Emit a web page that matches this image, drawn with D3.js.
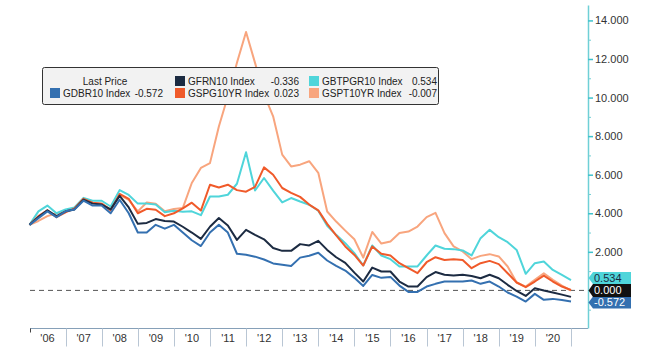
<!DOCTYPE html>
<html>
<head>
<meta charset="utf-8">
<script src="https://cdn.jsdelivr.net/npm/d3@7"></script>
<style>
    body { margin: 0; background: #fff; }
    svg { display: block; font-family: "Liberation Sans", Arial, sans-serif; }
</style>
</head>
<body>
<svg></svg>
<script>
// quarterly 10y yields (2006 Q1 .. 2021 Q1)
const gdbr10 = [3.4, 3.75, 4.1, 3.8, 4.1, 4.2, 4.65, 4.4, 4.4, 4.0,
    4.7, 4.0, 3.0, 3.0, 3.4, 3.2, 3.4, 3.0, 2.6, 2.3,
    3.0, 3.4, 3.0, 1.9, 1.85, 1.75, 1.6, 1.4, 1.33, 1.27,
    1.7, 1.8, 1.95, 1.55, 1.27, 1.03, 0.65, 0.23, 0.8, 0.65,
    0.7, 0.25, -0.08, -0.08, 0.2, 0.34, 0.46, 0.46, 0.46, 0.51,
    0.34, 0.46, 0.2, -0.11, -0.32, -0.58, -0.18, -0.49, -0.44, -0.5,
    -0.572];

const gfrn10 = [3.4, 3.8, 4.15, 3.85, 4.1, 4.2, 4.7, 4.5, 4.45, 4.2,
    4.9, 4.3, 3.45, 3.5, 3.7, 3.6, 3.57, 3.3, 3.0, 2.67,
    3.3, 3.75, 3.37, 2.62, 3.14, 2.88, 2.65, 2.2, 2.05, 2.05,
    2.4, 2.33, 2.57, 2.1, 1.72, 1.43, 0.92, 0.46, 1.18, 0.98,
    0.98, 0.46, 0.2, 0.2, 0.69, 0.95, 0.81, 0.77, 0.81, 0.75,
    0.63, 0.81, 0.63, 0.29, -0.03, -0.29, 0.11, -0.01, -0.11, -0.22,
    -0.336];

const gbtpgr10 = [3.4, 4.1, 4.4, 4.0, 4.2, 4.3, 4.8, 4.65, 4.65, 4.35,
    5.2, 4.95, 4.5, 4.5, 4.45, 4.05, 4.13, 4.08, 4.1, 3.9,
    4.87, 4.87, 4.96, 5.53, 7.16, 5.18, 5.83, 5.17, 4.56, 4.79,
    4.61, 4.44, 4.13, 3.35, 2.88, 2.45, 1.93, 1.29, 2.33, 1.81,
    1.62, 1.24, 1.24, 1.24, 1.81, 2.33, 2.16, 2.14, 2.07, 1.81,
    2.71, 3.14, 2.76, 2.5, 2.1, 0.86, 1.41, 1.5, 1.06, 0.8,
    0.534];

const gspg10yr = [3.4, 3.85, 4.15, 3.8, 4.05, 4.25, 4.75, 4.55, 4.5, 4.15,
    5.0, 4.75, 4.0, 4.23, 4.18, 3.85, 4.0, 4.25, 4.55, 4.14,
    5.48, 5.34, 5.48, 5.2, 5.12, 5.37, 6.38, 6.0, 5.31, 5.06,
    4.85, 4.45, 4.15, 3.45, 2.85, 2.28, 1.84, 1.29, 2.28, 1.9,
    1.81, 1.41, 1.15, 0.89, 1.46, 1.72, 1.58, 1.62, 1.58, 1.15,
    1.41, 1.53, 1.36, 0.89, 0.41, 0.17, 0.46, 0.77, 0.46, 0.2,
    0.023];

const gspt10yr = [3.4, 3.6, 3.85, 4.0, 4.1, 4.25, 4.75, 4.55, 4.5, 4.2,
    4.95, 4.7, 4.1, 4.56, 4.49, 4.1, 4.22, 4.27, 5.57, 6.35,
    6.6, 8.5, 10.07, 11.8, 13.4, 11.8, 10.16, 9.03, 7.04, 6.43,
    6.52, 6.7, 6.1, 4.09, 3.57, 3.1, 2.65, 1.7, 3.03, 2.43,
    2.54, 2.98, 3.05, 3.31, 3.8, 4.02, 2.97, 2.28, 2.02, 1.62,
    1.79, 1.88, 1.76, 1.24, 0.41, 0.2, 0.55, 0.89, 0.55, 0.25,
    -0.007];

const yearLabels = ["'06", "'07", "'08", "'09", "'10", "'11", "'12", "'13",
    "'14", "'15", "'16", "'17", "'18", "'19", "'20"];
const yTicks = [2, 4, 6, 8, 10, 12, 14];
const yMinorTicks = [-1, 1, 3, 5, 7, 9, 11, 13];

const dates = d3.timeMonth.every(3).range(new Date(2006, 0, 1), new Date(2021, 0, 2));

const series = [
    { name: "GSPT10YR Index", values: gspt10yr, color: "#f8a57e" },
    { name: "GBTPGR10 Index", values: gbtpgr10, color: "#4fd5da" },
    { name: "GSPG10YR Index", values: gspg10yr, color: "#f05a2a" },
    { name: "GFRN10 Index", values: gfrn10, color: "#1c2b42" },
    { name: "GDBR10 Index", values: gdbr10, color: "#3470b0" }
];

// plain hyphen for negatives, like the terminal
var fmt3 = d3.format(".3f");
function fmt(v) {
    return fmt3(v).replace("\u2212", "-");
}

function drawChart() {

    var svgWidth = 669, svgHeight = 364;
    var axisX = 588, bottomY = 328.5;

    var svg = d3.select("svg")
        .attr("width", svgWidth)
        .attr("height", svgHeight);

    var x = d3.scaleTime()
        .domain([new Date(2006, 0, 1), new Date(2021, 0, 1)])
        .range([29.5, 571]);

    var y = d3.scaleLinear()
        .domain([-1.95, 14.8])
        .range([328, 5]);

    // zero line
    svg.append("line")
        .attr("x1", 30).attr("x2", axisX)
        .attr("y1", y(0)).attr("y2", y(0))
        .attr("stroke", "#555")
        .attr("stroke-dasharray", "5,4");

    // the lines
    var line = d3.line()
        .x(function (d, i) { return x(dates[i]); })
        .y(function (d) { return y(d); });

    series.forEach(function (s) {
        svg.append("path")
            .datum(s.values)
            .attr("fill", "none")
            .attr("stroke", s.color)
            .attr("stroke-width", 2)
            .attr("stroke-linejoin", "round")
            .attr("d", line);
    });

    // bottom axis with year bands
    svg.append("line")
        .attr("x1", 30).attr("x2", axisX)
        .attr("y1", bottomY).attr("y2", bottomY)
        .attr("stroke", "#86a0b8");

    var years = d3.timeYear.range(new Date(2006, 0, 1), new Date(2021, 0, 2));

    svg.append("g").selectAll("line")
        .data(years)
        .join("line")
        .attr("x1", function (d) { return Math.round(x(d)) + 0.5; })
        .attr("x2", function (d) { return Math.round(x(d)) + 0.5; })
        .attr("y1", bottomY)
        .attr("y2", function (d, i) { return i === 0 ? bottomY + 4 : bottomY + 18; })
        .attr("stroke", function (d, i) { return i === 0 ? "#444" : "#b9c6d4"; });

    svg.append("g").selectAll("text")
        .data(yearLabels)
        .join("text")
        .attr("x", function (d, i) { return (x(years[i]) + x(years[i + 1])) / 2; })
        .attr("y", 342)
        .attr("text-anchor", "middle")
        .attr("font-size", 11)
        .attr("fill", "#333")
        .text(function (d) { return d; });

    // right axis
    svg.append("g")
        .attr("transform", "translate(" + axisX + ",0)")
        .call(d3.axisRight(y).tickValues(yMinorTicks).tickSize(3).tickSizeOuter(0).tickFormat(""))
        .call(function (g) { g.selectAll("line").attr("stroke", "#74cfd4"); })
        .call(function (g) { g.select(".domain").attr("stroke", "#6fd0d6").attr("stroke-width", 1.5); });

    svg.append("g")
        .attr("transform", "translate(" + axisX + ",0)")
        .call(d3.axisRight(y).tickValues(yTicks).tickSize(5).tickPadding(2).tickFormat(fmt))
        .call(function (g) { g.select(".domain").remove(); })
        .call(function (g) { g.selectAll("line").attr("stroke", "#3fc2cc").attr("stroke-width", 1.5); })
        .call(function (g) {
            g.selectAll("text")
                .attr("font-size", 11)
                .attr("font-family", "Liberation Sans, Arial, sans-serif")
                .attr("fill", "#333");
        });

    // last value tags on the axis (black zero tag sits on top)
    var tags = [
        { v: 0.534, fill: "#4fd5da", text: "#1c2b42", h: 12, dy: -2 },
        { v: -0.572, fill: "#3470b0", text: "#fff", h: 12, dy: 1 },
        { v: 0, fill: "#111", text: "#fff", h: 13, dy: 0 }
    ];

    tags.forEach(function (t) {
        var yc = y(t.v) + t.dy, h = t.h / 2;
        svg.append("path")
            .attr("d", "M" + (axisX + 0.5) + "," + yc +
                "L" + (axisX + 5) + "," + (yc - h) +
                "L631," + (yc - h) + "L631," + (yc + h) +
                "L" + (axisX + 5) + "," + (yc + h) + "Z")
            .attr("fill", t.fill);
        svg.append("text")
            .attr("x", axisX + 6)
            .attr("y", yc + 4)
            .attr("font-size", 11)
            .attr("fill", t.text)
            .text(fmt(t.v));
    });

    // legend box
    var legend = svg.append("g");

    legend.append("rect")
        .attr("x", 42.5).attr("y", 67.5)
        .attr("width", 396).attr("height", 37)
        .attr("rx", 2)
        .attr("fill", "#f2f2f2")
        .attr("stroke", "#333");

    legend.append("text")
        .attr("x", 105).attr("y", 85)
        .attr("text-anchor", "middle")
        .attr("font-size", 10)
        .attr("fill", "#222")
        .text("Last Price");

    var items = [
        { s: series[4], col: 0, row: 1 },
        { s: series[3], col: 1, row: 0 },
        { s: series[2], col: 1, row: 1 },
        { s: series[1], col: 2, row: 0 },
        { s: series[0], col: 2, row: 1 }
    ];
    var colSwatch = [50, 175, 309];
    var colValue = [163, 299, 437];

    items.forEach(function (it) {
        var ty = it.row === 0 ? 85 : 97;
        legend.append("rect")
            .attr("x", colSwatch[it.col]).attr("y", ty - 9)
            .attr("width", 10).attr("height", 10)
            .attr("fill", it.s.color);
        legend.append("text")
            .attr("x", colSwatch[it.col] + 13).attr("y", ty)
            .attr("font-size", 10)
            .attr("fill", "#222")
            .text(it.s.name);
        legend.append("text")
            .attr("x", colValue[it.col]).attr("y", ty)
            .attr("text-anchor", "end")
            .attr("font-size", 10)
            .attr("fill", "#222")
            .text(fmt(it.s.values[it.s.values.length - 1]));
    });
}

drawChart();
</script>
</body>
</html>
